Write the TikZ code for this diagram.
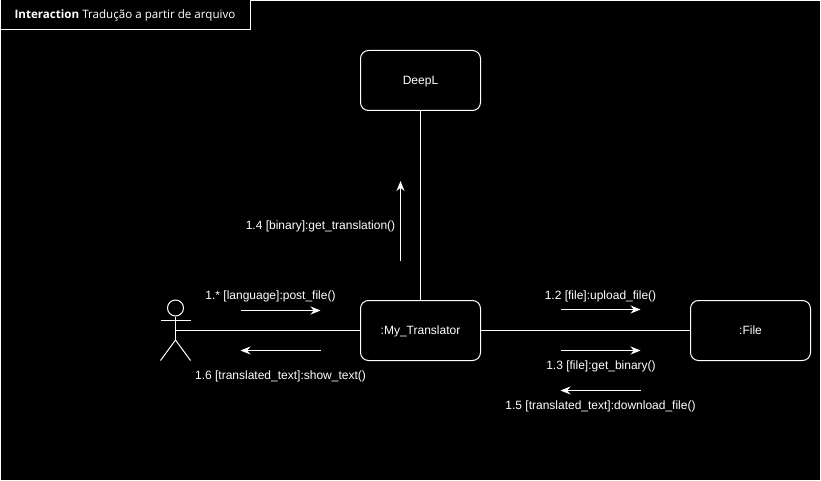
\documentclass[tikz,border=0pt]{standalone}
\usepackage{fontspec}
\setmainfont{Liberation Sans}
\newfontfamily\titlefont{Open Sans}
\usetikzlibrary{arrows.meta}
\usetikzlibrary{positioning}
\tikzset{obj-node/.style={draw=white,rounded corners=6pt,fill=black,text=white,minimum width=90pt,minimum height=45pt,inner sep=0pt,text height=7.8pt,text depth=2pt}}
\tikzset{msg-label/.style={text=white,inner sep=0pt}}
\tikzset{msg-arrow/.style={draw=white,-{Stealth[length=7.5pt,width=6pt]}}}
\tikzset{link/.style={draw=white}}
\tikzset{every node/.append style={font=\fontsize{9}{11}\selectfont}}

\begin{document}
\begin{tikzpicture}[x=0.75pt,y=-0.75pt,line width=0.75pt]
            \useasboundingbox (0,0) rectangle (821,481);
            \fill [black] (0,0) rectangle (821,481);
            \draw [white] (0.5,0.5) rectangle (820.5,480.5);

            \node [draw=white, fill=black, text=white, minimum width=187.5pt, minimum height=22.5pt, inner sep=0pt, font=\titlefont\fontsize{8.7}{11}\selectfont] (frame-title) at (125,15) {\textbf{Interaction} Tradução a partir de arquivo};

            \node [obj-node] (deepl) at (420.5,80.5) {DeepL};
            \node [obj-node] (translator) at (420.5,330.5) {:My\_Translator};
            \node [obj-node] (file) at (750.5,330.5) {:File};

            % stick figure
            \node [draw=white, circle, minimum size=12pt, inner sep=0pt] (actor-head) at (175.5,308) {};
            \coordinate (actor-hip) at (175.5,340);
            \coordinate (actor-mid) at (175.5,330.5);
            \draw [link] (actor-head) -- (actor-hip);
            \draw [link] (160.5,320.5) -- (190.5,320.5);
            \draw [link] (160.5,360.5) -- (actor-hip) -- (190.5,360.5);

            \draw [link] (actor-mid) -- (translator);
            \draw [link] (translator) -- (file);
            \draw [link] (translator) -- (deepl);

            \coordinate (post-start) at (240.5,310.5);
            \coordinate (post-end) at (320.5,310.5);
            \coordinate (show-start) at (320.5,350.5);
            \coordinate (show-end) at (240.5,350.5);
            \coordinate (upload-start) at (560.5,309.5);
            \coordinate (upload-end) at (640.5,309.5);
            \coordinate (binary-start) at (560.5,350.5);
            \coordinate (binary-end) at (640.5,350.5);
            \coordinate (download-start) at (640.5,390.5);
            \coordinate (download-end) at (560.5,390.5);
            \coordinate (translation-start) at (400.5,261);
            \coordinate (translation-end) at (400.5,181);
            \draw [msg-arrow] (post-start) -- (post-end);
            \draw [msg-arrow] (show-start) -- (show-end);
            \draw [msg-arrow] (upload-start) -- (upload-end);
            \draw [msg-arrow] (binary-start) -- (binary-end);
            \draw [msg-arrow] (download-start) -- (download-end);
            \draw [msg-arrow] (translation-start) -- (translation-end);

            \node [msg-label] (post-label) at (270.5,296) {1.* [language]:post\_file()};
            \node [msg-label] (show-label) at (280.5,376) {1.6 [translated\_text]:show\_text()};
            \node [msg-label] (upload-label) at (600.5,296) {1.2 [file]:upload\_file()};
            \node [msg-label] (binary-label) at (601,366) {1.3 [file]:get\_binary()};
            \node [msg-label] (download-label) at (600.5,406) {1.5 [translated\_text]:download\_file()};
            \node [msg-label] (translation-label) at (320.5,226) {1.4 [binary]:get\_translation()};
        \end{tikzpicture}
\end{document}
